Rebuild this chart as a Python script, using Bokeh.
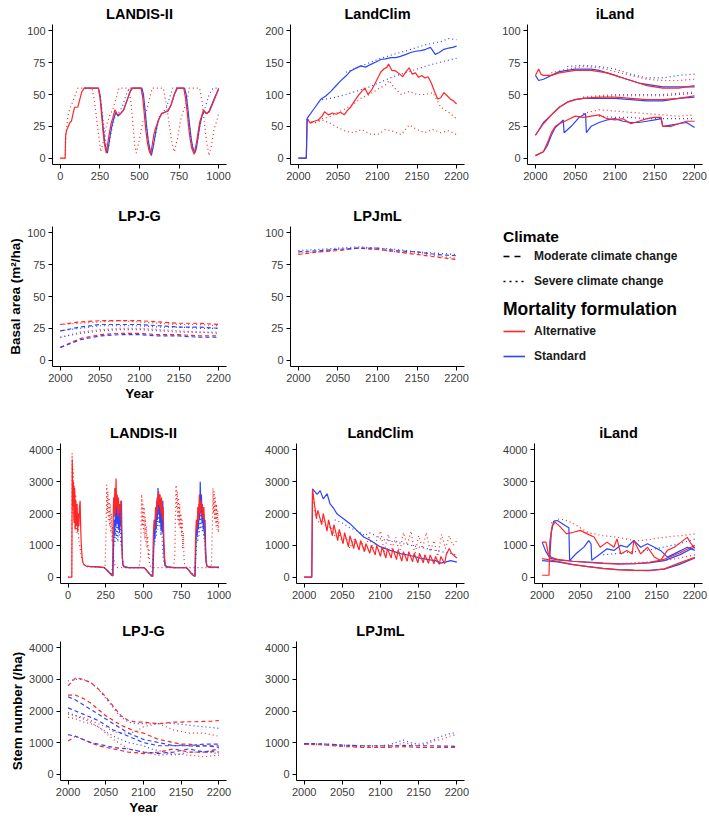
from bokeh.plotting import figure
from bokeh.layouts import row, column
from bokeh.models import Range1d, FixedTicker, Legend, LegendItem
from bokeh.embed import file_html
from bokeh.resources import INLINE

# ---------------- DATA ----------------
# Panel A: LANDIS-II basal area (x = simulation year 0-1000)
a_alt_x = [0,30,33,40,50,60,70,80,90,110,120,135,150,240,250,260,270,280,290,300,310,320,330,345,360,380,400,420,440,450,510,520,530,540,550,560,570,580,590,600,620,640,660,680,700,720,735,780,790,800,810,820,830,845,860,870,880,895,905,920,940,960,980,1000]
a_alt_y = [0,0,18,22,25,28,29,35,40,40,45,52,55,55,48,35,20,10,4,12,20,27,31,38,34,35,38,45,52,55,55,48,35,22,12,6,3,10,18,23,30,35,36,37,42,50,55,55,48,38,25,15,8,3,12,20,28,34,38,35,36,42,48,55]
a_std_x = [150,240,250,260,270,280,290,297,305,315,325,335,350,365,380,400,420,440,455,515,525,535,545,555,565,575,585,595,605,620,640,660,680,700,720,740,785,795,805,815,825,835,850,860,870,880,895,910,925,940,960,980,1000]
a_std_y = [55,55,50,38,24,12,6,4,10,18,25,30,36,33,35,38,45,52,55,55,50,38,25,14,7,2,8,15,22,30,35,36,37,42,50,55,55,50,40,28,17,9,4,8,16,25,33,37,35,37,43,49,54]
a_stds_x = [240,255,270,285,295,305,320,335,350,370,390,405,420,435,510,525,540,555,570,580,595,610,630,650,670,690,710,780,795,810,825,840,850,865,880,895,915,935,950,965,1000]
a_stds_y = [55,46,30,14,6,9,20,28,35,36,40,46,51,55,55,46,30,15,5,5,14,24,34,36,40,47,55,55,46,30,16,7,4,12,24,33,40,48,52,55,55]
a_alts_x = [0,30,35,50,70,90,110,200,215,230,245,255,270,290,310,330,350,370,430,445,460,470,480,500,520,540,560,580,650,670,690,705,720,740,760,780,800,815,880,895,910,925,940,955,970,985,1000]
a_alts_y = [0,0,20,35,42,48,55,55,45,30,15,5,12,25,33,38,46,55,55,45,25,10,4,15,28,35,45,55,55,42,25,12,5,15,30,38,45,55,55,45,28,12,2,10,22,28,35]

# Panel B: LandClim basal area
b_std_x = [2000,2010,2011,2013,2020,2028,2035,2041,2047,2053,2060,2066,2072,2079,2085,2091,2098,2104,2110,2117,2123,2129,2136,2142,2148,2155,2161,2167,2173,2178,2184,2190,2195,2200]
b_std_y = [0,0,62,66,78,92,98,105,113,121,129,137,141,145,143,147,151,155,156,158,158,160,163,166,168,169,171,174,163,166,171,173,174,176]
b_stds1_x = [2060,2080,2100,2120,2140,2160,2180,2190,2200]
b_stds1_y = [135,145,155,163,170,178,183,188,186]
b_stds2_x = [2030,2045,2060,2075,2090,2105,2120,2135,2150,2165,2180,2200]
b_stds2_y = [92,95,100,106,112,120,128,134,140,146,151,157]
b_alt_x = [2000,2010,2011,2015,2020,2025,2030,2033,2038,2043,2048,2053,2058,2062,2066,2070,2075,2080,2084,2088,2092,2096,2100,2104,2108,2112,2114,2118,2123,2128,2132,2136,2140,2144,2148,2152,2156,2160,2164,2168,2172,2176,2180,2184,2188,2192,2196,2200]
b_alt_y = [0,0,62,55,58,60,66,73,68,71,69,72,68,75,80,88,97,105,110,100,106,115,125,135,140,143,148,138,137,132,128,136,142,132,134,127,130,126,128,118,105,93,95,103,98,93,90,85]
b_alts1_x = [2012,2020,2030,2040,2050,2060,2070,2080,2090,2100,2110,2115,2120,2130,2140,2150,2160,2170,2180,2190,2200]
b_alts1_y = [60,55,62,65,72,78,85,95,100,108,115,122,112,100,105,100,100,103,80,72,62]
b_alts2_x = [2012,2020,2030,2040,2050,2060,2070,2080,2090,2100,2110,2120,2130,2140,2150,2160,2170,2180,2190,2200]
b_alts2_y = [60,55,60,55,48,42,40,45,38,37,45,42,37,52,45,40,45,40,43,37]

# Panel C: iLand basal area (three stands)
c_up_std_x = [2000,2004,2010,2020,2030,2040,2050,2060,2070,2080,2090,2100,2110,2120,2130,2140,2150,2160,2170,2180,2190,2200]
c_up_std_y = [65,61,62,65,68,69,70,70,70,69,67,65,63,61,59,58,57,56,56,56,56,56]
c_up_alt_x = [2000,2004,2007,2010,2020,2030,2040,2050,2060,2070,2080,2090,2100,2110,2120,2130,2140,2150,2160,2170,2180,2190,2200]
c_up_alt_y = [65,70,66,65,65,67,68,69,69,69,68,67,65,63,61,59,57,56,55,55,55,56,57]
c_up_alts_x = [2020,2040,2060,2080,2100,2120,2140,2160,2180,2200]
c_up_alts_y = [67,70,72,71,68,65,62,61,61,62]
c_up_stds_x = [2040,2060,2080,2100,2120,2140,2160,2180,2200]
c_up_stds_y = [72,73,72,70,66,63,63,65,66]
c_mid_x = [2000,2010,2020,2030,2040,2050,2060,2080,2100,2120,2140,2160,2180,2200]
c_mid_std_y = [18,28,34,40,44,46,47,47,47,46,45,45,47,48]
c_mid_alt_y = [18,27,34,40,44,46,47,48,48,47,46,46,47,49]
c_mid_s_x = [2060,2080,2100,2120,2140,2160,2180,2200]
c_mid_alts_y = [48,49,50,50,50,50,51,52]
c_mid_stds_y = [47,48,49,49,49,49,50,51]
c_lo_std_x = [2000,2010,2015,2020,2025,2030,2035,2036,2045,2055,2063,2064,2070,2080,2090,2100,2110,2120,2130,2140,2150,2158,2160,2170,2180,2190,2195,2200]
c_lo_std_y = [2,5,10,18,24,27,30,20,25,32,35,20,25,28,30,31,29,28,28,29,30,31,25,26,27,28,26,24]
c_lo_alt_x = [2000,2010,2015,2020,2025,2030,2040,2050,2060,2070,2080,2090,2100,2110,2120,2130,2140,2150,2158,2160,2170,2180,2190,2200]
c_lo_alt_y = [2,5,12,20,25,27,30,33,32,33,34,31,30,31,27,29,31,32,32,25,25,27,29,29]
c_lo_alts_x = [2060,2080,2100,2120,2140,2160,2180,2200]
c_lo_alts_y = [35,38,37,36,35,34,33,34]
c_lo_stds_x = [2080,2100,2120,2140,2160,2180,2200]
c_lo_stds_y = [33,32,32,31,31,31,31]

# Panel D: LPJ-G basal area
d_x = [2000,2025,2050,2075,2100,2125,2150,2175,2200]
d_altm1 = [10,17,20,21,21,20,20,19,19]
d_altm2 = [28,30,31,31,31,30,29,29,28]
d_stdm1 = [10,16,19,20,20,19,19,18,18]
d_stdm2 = [23,26,28,28,28,27,26,26,25]
d_alts1 = [18,22,24,25,25,24,23,22,22]
d_alts2 = [28,29,30,31,30,29,28,28,27]
d_stds1 = [18,21,23,24,24,23,22,22,21]
d_stds2 = [23,25,27,27,27,26,26,25,25]

# Panel E: LPJmL basal area
e_x = [2000,2025,2050,2075,2100,2125,2150,2175,2200]
e_altm = [83,85,86,88,87,85,83,81,79]
e_stdm = [85,86,87,88,88,86,85,83,82]
e_alts = [84,85,87,88,87,85,84,82,80]
e_stds = [86,87,88,89,88,87,85,84,83]

# Panel F: LANDIS-II stem number
f_alt_x = [0,25,28,32,36,40,44,48,52,56,60,64,68,72,76,80,84,88,92,96,100,105,110,
           120,150,200,240,250,260,270,280,290,295,
           298,302,306,310,314,318,322,326,330,334,338,342,346,350,355,360,365,370,
           380,400,450,500,510,520,530,540,550,560,
           565,570,575,580,585,590,595,600,605,610,615,620,625,630,635,640,645,650,
           660,700,780,790,800,810,820,830,840,
           845,850,855,860,865,870,875,880,885,890,895,900,905,910,915,920,930,960,1000]
f_alt_y = [0,0,3700,2200,3000,1700,2800,1500,2400,1600,2300,1400,2000,1600,2200,2400,1500,1000,700,500,450,400,380,
           350,330,320,300,250,200,150,100,50,40,
           1500,2500,1900,2800,2000,3100,2200,2600,1900,2500,2000,2300,1800,2400,1200,600,400,350,
           320,300,300,300,280,220,150,100,50,20,
           1300,1800,1500,2200,1800,2500,2000,2700,2200,2600,2000,2500,1800,2200,1200,600,400,350,
           320,300,300,280,220,150,100,60,30,
           1200,1800,1500,2200,1800,2600,2000,2400,1900,2300,1800,2200,1500,800,450,350,320,300,320]
f_std_x = [120,200,240,250,260,270,280,290,298,
           302,306,310,314,318,322,326,330,334,338,342,346,350,354,358,362,
           370,400,500,510,520,530,540,550,562,
           568,572,576,580,584,588,592,596,600,604,608,612,616,620,624,628,632,636,640,645,
           655,700,780,790,800,810,820,830,842,
           848,852,856,860,864,868,872,876,880,884,888,892,896,900,904,908,912,916,920,
           930,1000]
f_std_y = [340,320,300,260,220,170,120,70,40,
           1000,1800,1300,2200,1600,2400,1700,2100,1500,2300,1400,2000,1600,2400,900,400,
           320,300,300,270,220,160,100,40,20,
           900,1600,1200,2000,1500,2400,1800,2800,2000,2600,1700,2300,1500,2100,1400,2400,1200,700,450,350,
           320,300,300,270,220,160,100,50,20,
           1100,1700,1300,2000,1500,2300,1800,3000,2000,2600,1700,2200,1500,2000,1300,1800,900,500,350,
           320,300]
f_stds_x = [240,290,300,305,310,315,320,325,330,335,340,345,350,355,360,368,380,500,555,565,570,575,580,585,590,595,600,605,610,615,620,625,630,640,650,780,840,850,855,860,865,870,875,880,885,890,895,900,905,910,920,1000]
f_stds_y = [300,60,800,1500,1000,1800,1200,2000,1100,1900,1300,2100,1000,1500,600,350,300,300,60,700,1400,1000,1900,1300,2100,1500,2300,1600,2000,1300,1800,1000,600,350,300,300,50,900,1500,1100,1800,1300,2000,1500,2200,1400,1900,1200,1600,700,350,300]
f_alts_x = [0,24,27,30,34,38,42,46,50,55,60,70,80,90,100,110,130,200,245,
            252,256,260,264,268,272,276,280,284,288,292,296,300,310,320,330,
            470,480,
            484,488,492,496,500,504,508,512,516,520,524,528,532,536,540,550,560,
            700,708,
            712,716,720,724,728,732,736,740,744,748,752,756,760,764,768,772,780,790,
            950,956,
            960,964,968,972,976,980,984,988,992,996,1000]
f_alts_y = [0,0,3900,2000,3400,1800,2900,1500,2600,1400,2200,1200,900,600,450,350,330,320,300,
            1500,2900,2000,2700,1800,2500,1600,2300,1400,2000,1100,1600,700,400,320,300,
            300,600,
            1800,2600,1600,2400,1400,2200,1200,1900,1000,1600,900,1300,600,900,400,320,300,
            300,800,
            2000,2900,2100,2700,1800,2500,1600,2300,1500,2000,1300,1800,900,1400,600,400,320,300,
            300,1500,
            2800,2000,2700,1800,2500,1600,2300,1500,2100,1400,1800]

# Panel G: LandClim stem number
g_alt_x = [2000,2010,2011,2016,2018,2023,2025,2030,2032,2037,2039,2044,2046,2051,2053,2058,2060,2065,2067,2072,2074,2079,2081,2086,2088,2093,2095,2100,2102,2107,2109,2114,2116,2121,2123,2128,2130,2135,2137,2142,2144,2149,2151,2156,2158,2163,2165,2170,2172,2177,2179,2184,2186,2190,2193,2200]
g_alt_y = [0,0,2750,1850,2100,1650,2000,1450,1800,1300,1650,1150,1500,1050,1400,950,1300,900,1200,850,1150,800,1050,750,1000,700,1000,650,950,600,900,600,900,550,850,500,800,500,800,480,750,450,750,450,700,430,700,420,650,400,650,420,700,900,750,600]
g_std_x = [2000,2010,2011,2017,2021,2025,2030,2034,2039,2043,2048,2052,2060,2069,2078,2087,2100,2113,2126,2139,2152,2165,2172,2179,2186,2192,2200]
g_std_y = [0,0,2775,2600,2720,2460,2620,2300,2150,1990,1900,1830,1680,1470,1260,1150,950,840,740,680,600,540,520,440,480,520,470]
g_alts_x = [2011,2015,2020,2025,2030,2035,2040,2045,2050,2055,2060,2065,2070,2075,2080,2085,2090,2095,2100,2105,2110,2115,2120,2125,2130,2135,2140,2145,2150,2155,2160,2165,2170,2175,2180,2185,2190,2195,2200]
g_alts_y = [2600,1900,1700,1800,1500,1600,1300,1400,1100,1250,900,1200,950,1100,850,1300,900,1150,1450,800,1350,900,1250,750,1400,1000,1450,700,1300,900,1400,800,1150,650,1350,900,1300,1000,1150]
g_stds_x = [2040,2050,2060,2070,2080,2085,2090,2100,2110,2120,2130,2140,2150,2160,2170,2180,2190,2200]
g_stds_y = [1800,1700,1550,1450,1300,1400,1350,1200,1150,1100,1050,1000,950,900,850,800,750,700]

# Panel H: iLand stem number
h_alt_hi_x = [2000,2009,2010,2013,2017,2024,2032,2041,2050,2059,2068,2076,2085,2094,2098,2103,2111,2118,2120,2129,2138,2147,2155,2164,2173,2182,2190,2195,2200]
h_alt_hi_y = [60,60,1100,1600,1730,1570,1360,1410,1470,1360,1260,940,1100,940,1200,730,840,730,1150,730,940,630,520,840,940,1100,1250,1050,900]
h_std_hi_x = [2000,2005,2010,2012,2015,2020,2025,2030,2035,2036,2045,2055,2061,2064,2065,2076,2085,2094,2103,2111,2120,2129,2138,2147,2155,2164,2173,2182,2190,2200]
h_std_hi_y = [1100,800,600,1400,1750,1780,1700,1620,1550,520,750,950,1150,1050,530,730,890,840,1000,940,1150,940,1050,940,840,630,730,840,940,840]
h_alt_mid_x = [2000,2005,2008,2012,2020,2040,2060,2080,2100,2120,2140,2160,2180,2200]
h_alt_mid_y = [1100,1100,750,620,560,500,460,430,410,420,460,560,760,1000]
h_std_mid_x = [2010,2020,2040,2060,2080,2100,2120,2140,2160,2180,2200]
h_std_mid_y = [600,540,500,470,440,420,420,450,520,700,950]
h_lo_x = [2000,2020,2040,2060,2080,2100,2120,2140,2160,2180,2200]
h_alt_lo_y = [580,500,400,330,270,230,210,200,260,450,620]
h_std_lo_y = [520,480,390,330,280,240,220,210,250,400,600]
h_alts_x = [2012,2020,2030,2040,2050,2060,2070,2080,2090,2100,2110,2120,2130,2140,2150,2160,2170,2180,2190,2200]
h_alts_y = [1700,1830,1800,1700,1550,1400,1350,1300,1280,1250,1200,1150,1150,1180,1220,1250,1280,1300,1330,1360]
h_stds_x = [2080,2100,2120,2140,2160,2180,2200]
h_stds_y = [700,750,800,850,950,1050,1200]
h_alts_lo_x = [2100,2120,2140,2160,2180,2200]
h_alts_lo_y = [420,450,480,520,600,700]

# Panel I: LPJ-G stem number
i_x = [2000,2010,2020,2030,2040,2050,2060,2070,2080,2090,2100,2110,2120,2130,2140,2150,2160,2170,2180,2190,2200]
i_altm1 = [2800,3050,3000,2900,2700,2450,2150,1850,1700,1650,1650,1620,1600,1620,1650,1650,1660,1660,1670,1680,1700]
i_stds1 = [2950,3000,3000,2900,2700,2400,2100,1800,1650,1600,1600,1590,1600,1620,1600,1580,1550,1520,1500,1480,1450]
i_altm2 = [2500,2500,2400,2250,2050,1850,1700,1550,1450,1350,1300,1200,1100,1050,1000,950,950,920,900,900,900]
i_stdm2 = [2450,2350,2200,2050,1900,1750,1600,1450,1300,1200,1100,1050,1000,950,900,900,900,880,900,880,850]
i_stdm3 = [2100,2000,1900,1800,1700,1550,1400,1300,1200,1100,1000,950,900,900,900,920,900,930,950,950,950]
i_alts3 = [1900,1850,1800,1700,1600,1500,1350,1300,1300,1350,1500,1550,1600,1500,1400,1350,1300,1300,1300,1250,1200]
i_altm4 = [1050,1200,1100,1000,900,850,800,750,700,680,650,680,700,750,800,750,700,700,700,720,700]
i_stdm4 = [1250,1200,1100,1000,950,900,850,820,800,750,700,680,650,680,700,750,800,750,700,750,800]
i_stds5 = [1950,1850,1750,1650,1500,1350,1200,1100,1000,950,900,800,750,680,600,650,700,700,700,680,650]
i_alts5 = [1800,1750,1650,1600,1500,1300,1100,950,800,750,700,650,600,620,650,620,600,580,550,580,600]

# Panel J: LPJmL stem number
j_x = [2000,2025,2050,2075,2100,2110,2120,2130,2140,2150,2160,2170,2180,2190,2200]
j_altm = [950,930,880,850,850,850,860,870,860,850,850,850,850,850,850]
j_stdm = [970,960,920,900,900,900,900,910,900,900,900,900,890,890,880]
j_alts = [950,930,890,870,860,870,900,1000,950,900,950,1050,1100,1200,1250]
j_stds = [970,960,920,900,900,920,1000,1080,1000,950,1000,1100,1200,1280,1320]

# Axis ticks / labels
ticks_landis = [0, 250, 500, 750, 1000]
ticks_year = [2000, 2050, 2100, 2150, 2200]
ticks_ba = [0, 25, 50, 75, 100]
ticks_ba200 = [0, 50, 100, 150, 200]
ticks_stem = [0, 1000, 2000, 3000, 4000]
panel_titles = ["LANDIS-II", "LandClim", "iLand", "LPJ-G", "LPJmL"]
ylab_ba = "Basal area (m²/ha)"
ylab_stem = "Stem number (/ha)"
xlab = "Year"
climate_labels = ["Moderate climate change", "Severe climate change"]
mortality_labels = ["Alternative", "Standard"]

# ---------------- STYLE ----------------
RED = "#FF2626"
BLUE = "#2A44FF"
FONT = "Liberation Sans"
SOLID, DASH, DOT = "solid", "4 3", "1 3"
LW = 1.2

def make_fig(title, w, h, bl, br, bt, bb, xr, yr, xt, yt, xlabel=None, ylabel=None):
    p = figure(width=w, height=h, x_range=Range1d(*xr), y_range=Range1d(*yr),
               output_backend="svg", toolbar_location=None,
               min_border_left=bl, min_border_right=br, min_border_top=bt, min_border_bottom=bb)
    p.title.text = title
    p.title.align = "center"
    p.title.text_font = FONT
    p.title.text_font_size = "14.5px"
    p.title.text_font_style = "bold"
    p.title.text_color = "black"
    p.title.standoff = 6
    p.grid.visible = False
    p.outline_line_color = None
    p.xaxis.ticker = FixedTicker(ticks=xt)
    p.yaxis.ticker = FixedTicker(ticks=yt)
    for ax in (p.xaxis[0], p.yaxis[0]):
        ax.axis_line_color = "black"
        ax.axis_line_width = 1
        ax.major_tick_line_color = "black"
        ax.major_tick_line_width = 1
        ax.major_tick_out = 4
        ax.major_tick_in = 0
        ax.minor_tick_line_color = None
        ax.major_label_text_font = FONT
        ax.major_label_text_font_size = "11px"
        ax.major_label_text_color = "#3c3c3c"
        ax.major_label_standoff = 3
        ax.axis_label_text_font = FONT
        ax.axis_label_text_font_size = "13.5px"
        ax.axis_label_text_font_style = "bold"
        ax.axis_label_text_color = "black"
        ax.axis_label_standoff = 1
    if xlabel:
        p.xaxis.axis_label = xlabel
    if ylabel:
        p.yaxis.axis_label = ylabel
    return p

def ln(p, x, y, color, dash):
    p.line(x, y, line_color=color, line_width=LW, line_dash=dash)

XL = (-50, 1050)
XY = (1990, 2210)
BA = (-5, 105)
BA2 = (-10, 210)
ST = (-200, 4200)
W1, W2, W3 = 240, 236, 233
H1, H2, H3, H4 = 190, 216, 198, 213

# Row 1
pA = make_fig(panel_titles[0], W1, H1, 52, 14, 24, 26, XL, BA, ticks_landis, ticks_ba)
ln(pA, a_alts_x, a_alts_y, RED, DOT)
ln(pA, a_stds_x, a_stds_y, BLUE, DOT)
ln(pA, a_std_x, a_std_y, BLUE, SOLID)
ln(pA, a_alt_x, a_alt_y, RED, SOLID)

pB = make_fig(panel_titles[1], W2, H1, 50, 12, 24, 26, XY, BA2, ticks_year, ticks_ba200)
ln(pB, b_alts1_x, b_alts1_y, RED, DOT)
ln(pB, b_alts2_x, b_alts2_y, RED, DOT)
ln(pB, b_stds1_x, b_stds1_y, BLUE, DOT)
ln(pB, b_stds2_x, b_stds2_y, BLUE, DOT)
ln(pB, b_alt_x, b_alt_y, RED, SOLID)
ln(pB, b_std_x, b_std_y, BLUE, SOLID)

pC = make_fig(panel_titles[2], W3, H1, 51, 7, 24, 26, XY, BA, ticks_year, ticks_ba)
ln(pC, c_up_alts_x, c_up_alts_y, RED, DOT)
ln(pC, c_up_stds_x, c_up_stds_y, BLUE, DOT)
ln(pC, c_mid_s_x, c_mid_alts_y, RED, DOT)
ln(pC, c_mid_s_x, c_mid_stds_y, BLUE, DOT)
ln(pC, c_lo_alts_x, c_lo_alts_y, RED, DOT)
ln(pC, c_lo_stds_x, c_lo_stds_y, BLUE, DOT)
ln(pC, c_up_std_x, c_up_std_y, BLUE, SOLID)
ln(pC, c_mid_x, c_mid_std_y, BLUE, SOLID)
ln(pC, c_lo_std_x, c_lo_std_y, BLUE, SOLID)
ln(pC, c_up_alt_x, c_up_alt_y, RED, SOLID)
ln(pC, c_mid_x, c_mid_alt_y, RED, SOLID)
ln(pC, c_lo_alt_x, c_lo_alt_y, RED, SOLID)

# Row 2
pD = make_fig(panel_titles[3], W1, H2, 52, 14, 36, 40, XY, BA, ticks_year, ticks_ba, xlabel=xlab, ylabel=ylab_ba)
for yv in (d_alts1, d_alts2):
    ln(pD, d_x, yv, RED, DOT)
for yv in (d_stds1, d_stds2):
    ln(pD, d_x, yv, BLUE, DOT)
for yv in (d_altm1, d_altm2):
    ln(pD, d_x, yv, RED, DASH)
for yv in (d_stdm1, d_stdm2):
    ln(pD, d_x, yv, BLUE, DASH)

pE = make_fig(panel_titles[4], W2, H2, 50, 12, 36, 40, XY, BA, ticks_year, ticks_ba)
ln(pE, e_x, e_alts, RED, DOT)
ln(pE, e_x, e_stds, BLUE, DOT)
ln(pE, e_x, e_altm, RED, DASH)
ln(pE, e_x, e_stdm, BLUE, DASH)

# Legend panel (legend-only renderers hold a single missing value, so nothing is drawn in the plot)
nan = float("nan")
pL = figure(width=W3, height=H2, x_range=Range1d(0, 1), y_range=Range1d(0, 1),
            output_backend="svg", toolbar_location=None,
            x_axis_location=None, y_axis_location=None,
            min_border_left=0, min_border_right=0, min_border_top=36, min_border_bottom=40)
pL.grid.visible = False
pL.outline_line_color = None
r_mod = pL.line(x=[nan], y=[nan], line_color="black", line_width=1.6, line_dash="6 5")
r_sev = pL.line(x=[nan], y=[nan], line_color="black", line_width=1.6, line_dash="2 4")
r_alt = pL.line(x=[nan], y=[nan], line_color=RED, line_width=1.6)
r_std = pL.line(x=[nan], y=[nan], line_color=BLUE, line_width=1.6)

def style_legend(lg, title_size, title_standoff):
    lg.title_text_font = FONT
    lg.title_text_font_size = title_size
    lg.title_text_font_style = "bold"
    lg.title_text_color = "black"
    lg.title_standoff = title_standoff
    lg.label_text_font = FONT
    lg.label_text_font_size = "12px"
    lg.label_text_font_style = "bold"
    lg.label_text_color = "#1a1a1a"
    lg.glyph_width = 22
    lg.glyph_height = 18
    lg.label_height = 18
    lg.label_standoff = 9
    lg.spacing = 7
    lg.padding = 0
    lg.margin = 0
    lg.border_line_color = None
    lg.background_fill_alpha = 0

leg1 = Legend(items=[LegendItem(label=climate_labels[0], renderers=[r_mod]),
                     LegendItem(label=climate_labels[1], renderers=[r_sev])],
              title="Climate", location=(27, 76))
style_legend(leg1, "15.5px", 1)
leg2 = Legend(items=[LegendItem(label=mortality_labels[0], renderers=[r_alt]),
                     LegendItem(label=mortality_labels[1], renderers=[r_std])],
              title="Mortality formulation", location=(27, 1))
style_legend(leg2, "17.5px", 2)
pL.add_layout(leg1)
pL.add_layout(leg2)

# Row 3
pF = make_fig(panel_titles[0], W1, H3, 60, 14, 37, 21, XL, ST, ticks_landis, ticks_stem)
ln(pF, f_alts_x, f_alts_y, RED, DOT)
ln(pF, f_std_x, f_std_y, BLUE, SOLID)
ln(pF, f_alt_x, f_alt_y, RED, SOLID)
ln(pF, f_stds_x, f_stds_y, BLUE, DOT)

pG = make_fig(panel_titles[1], W2, H3, 56, 12, 37, 21, XY, ST, ticks_year, ticks_stem)
ln(pG, g_alts_x, g_alts_y, RED, DOT)
ln(pG, g_stds_x, g_stds_y, BLUE, DOT)
ln(pG, g_std_x, g_std_y, BLUE, SOLID)
ln(pG, g_alt_x, g_alt_y, RED, SOLID)

pH = make_fig(panel_titles[2], W3, H3, 58, 7, 37, 21, XY, ST, ticks_year, ticks_stem)
ln(pH, h_alts_x, h_alts_y, RED, DOT)
ln(pH, h_alts_lo_x, h_alts_lo_y, RED, DOT)
ln(pH, h_stds_x, h_stds_y, BLUE, DOT)
ln(pH, h_lo_x, h_std_lo_y, BLUE, SOLID)
ln(pH, h_std_mid_x, h_std_mid_y, BLUE, SOLID)
ln(pH, h_lo_x, h_alt_lo_y, RED, SOLID)
ln(pH, h_alt_mid_x, h_alt_mid_y, RED, SOLID)
ln(pH, h_std_hi_x, h_std_hi_y, BLUE, SOLID)
ln(pH, h_alt_hi_x, h_alt_hi_y, RED, SOLID)

# Row 4
pI = make_fig(panel_titles[3], W1, H4, 60, 14, 37, 36, XY, ST, ticks_year, ticks_stem, xlabel=xlab, ylabel=ylab_stem)
for yv in (i_alts3, i_alts5):
    ln(pI, i_x, yv, RED, DOT)
for yv in (i_stds1, i_stds5):
    ln(pI, i_x, yv, BLUE, DOT)
for yv in (i_altm1, i_altm2, i_altm4):
    ln(pI, i_x, yv, RED, DASH)
for yv in (i_stdm2, i_stdm3, i_stdm4):
    ln(pI, i_x, yv, BLUE, DASH)

pJ = make_fig(panel_titles[4], W2, H4, 56, 12, 37, 36, XY, ST, ticks_year, ticks_stem)
ln(pJ, j_x, j_alts, RED, DOT)
ln(pJ, j_x, j_stds, BLUE, DOT)
ln(pJ, j_x, j_altm, RED, DASH)
ln(pJ, j_x, j_stdm, BLUE, DASH)

layout = column(row(pA, pB, pC), row(pD, pE, pL), row(pF, pG, pH), row(pI, pJ))

open("out.html", "w").write(file_html(layout, INLINE))
